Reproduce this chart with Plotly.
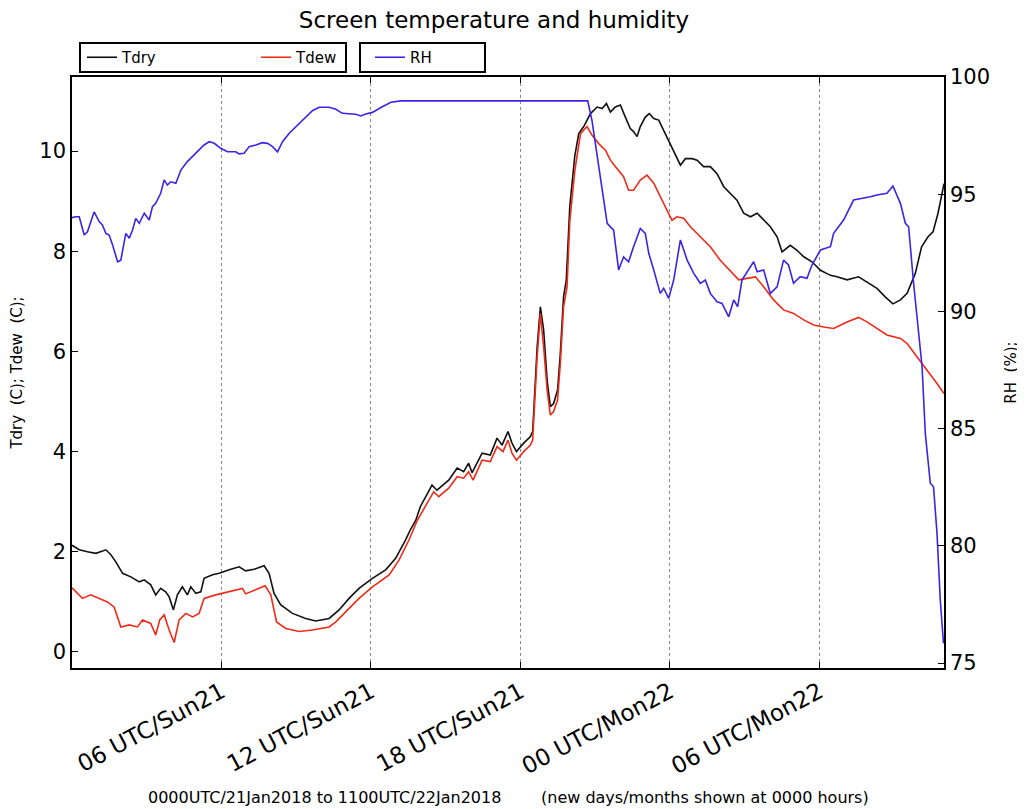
import plotly.graph_objects as go

# ---- data (hours since 00 UTC 21 Jan 2018) ----
tdry_h = [0.0, 0.29, 0.62, 0.96, 1.36, 1.56, 1.76, 2.03, 2.36, 2.7, 2.9, 3.16, 3.36, 3.56, 3.76, 3.9,
          4.07, 4.23, 4.43, 4.63, 4.77, 4.97, 5.17, 5.3, 5.64, 5.91, 6.31, 6.71, 6.97, 7.31, 7.71, 7.91,
          8.11, 8.38, 8.85, 9.38, 9.78, 10.32, 10.72, 11.12, 11.52, 12.06, 12.59, 12.99, 13.39, 13.58,
          13.8, 13.98, 14.45, 14.65, 15.12, 15.46, 15.72, 15.92, 16.06, 16.46, 16.79, 17.06, 17.26, 17.5,
          17.66, 17.84, 18.13, 18.4, 18.49, 18.67, 18.8, 18.93, 19.07, 19.2, 19.33, 19.49, 19.6, 19.73,
          19.84, 19.98, 20.18, 20.34, 20.54, 20.81, 21.08, 21.28, 21.45, 21.61, 21.81, 22.01, 22.21,
          22.41, 22.54, 22.68, 22.81, 23.01, 23.17, 23.35, 23.55, 23.75, 23.95, 24.15, 24.42, 24.62,
          24.89, 25.09, 25.35, 25.62, 25.89, 26.16, 26.42, 26.69, 26.96, 27.23, 27.5, 27.76, 28.03,
          28.3, 28.5, 28.83, 29.1, 29.37, 29.7, 30.04, 30.44, 30.71, 31.11, 31.57, 31.91, 32.31, 32.64,
          32.95, 33.25, 33.52, 33.85, 34.1, 34.36, 34.56, 34.76, 35.0]
tdry_v = [2.13, 2.04, 2.0, 1.97, 2.04, 1.94, 1.8, 1.57, 1.5, 1.4, 1.44, 1.34, 1.14, 1.27, 1.2, 1.1,
          0.84, 1.14, 1.3, 1.14, 1.3, 1.17, 1.2, 1.47, 1.54, 1.57, 1.64, 1.7, 1.62, 1.65, 1.72, 1.57,
          1.17, 0.94, 0.77, 0.67, 0.62, 0.67, 0.84, 1.07, 1.27, 1.47, 1.64, 1.87, 2.24, 2.44,
          2.63, 2.9, 3.33, 3.23, 3.43, 3.67, 3.6, 3.77, 3.58, 3.97, 3.93, 4.27, 4.13, 4.4,
          4.17, 4.0, 4.17, 4.3, 4.4, 6.09, 6.89, 6.43, 5.43, 4.9, 4.96, 5.23, 5.96, 7.09,
          7.43, 8.9, 9.9, 10.35, 10.49, 10.75, 10.88, 10.85, 10.95, 10.78, 10.88, 10.92, 10.68,
          10.45, 10.39, 10.29, 10.49, 10.68, 10.75, 10.65, 10.62, 10.42, 10.22, 10.02, 9.72, 9.85,
          9.85, 9.82, 9.69, 9.69, 9.55, 9.29, 9.16, 9.02, 8.76, 8.69, 8.76, 8.62, 8.49,
          8.29, 7.99, 8.12, 8.02, 7.89, 7.79, 7.62, 7.52, 7.49, 7.43, 7.49, 7.39, 7.26, 7.09,
          6.95, 7.03, 7.16, 7.56, 8.09, 8.29, 8.39, 8.76, 9.35]

tdew_h = [0.0, 0.42, 0.75, 1.09, 1.42, 1.69, 1.96, 2.3, 2.63, 2.83, 3.16, 3.36, 3.52, 3.7, 3.9, 4.1,
          4.3, 4.57, 4.84, 5.1, 5.3, 5.77, 6.31, 6.84, 6.97, 7.38, 7.75, 7.98, 8.21, 8.58, 9.12, 9.65,
          10.32, 10.59, 10.99, 11.52, 12.06, 12.73, 13.13, 13.53, 13.86, 14.05, 14.52, 14.72, 15.12,
          15.46, 15.72, 15.92, 16.1, 16.46, 16.79, 17.06, 17.3, 17.5, 17.66, 17.84, 18.13, 18.4, 18.49,
          18.67, 18.8, 18.93, 19.07, 19.2, 19.33, 19.49, 19.6, 19.73, 19.87, 19.98, 20.18, 20.41,
          20.67, 20.87, 21.14, 21.41, 21.61, 21.88, 22.14, 22.34, 22.54, 22.81, 23.08, 23.35, 23.61,
          23.88, 24.08, 24.28, 24.55, 24.82, 25.22, 25.62, 26.02, 26.42, 26.76, 27.09, 27.43, 27.76,
          28.16, 28.56, 28.96, 29.37, 29.77, 30.17, 30.57, 31.11, 31.57, 31.91, 32.31, 32.71, 33.25,
          33.52, 33.92, 34.32, 34.72, 35.0]
tdew_v = [1.28, 1.07, 1.14, 1.07, 1.0, 0.9, 0.5, 0.54, 0.5, 0.64, 0.57, 0.34, 0.64, 0.74, 0.44, 0.19,
          0.64, 0.77, 0.7, 0.77, 1.07, 1.14, 1.2, 1.27, 1.16, 1.24, 1.32, 1.14, 0.6, 0.47, 0.41, 0.44,
          0.5, 0.6, 0.8, 1.07, 1.3, 1.54, 1.84, 2.24, 2.63, 2.8, 3.2, 3.1, 3.27,
          3.5, 3.47, 3.6, 3.43, 3.83, 3.8, 4.1, 4.0, 4.23, 3.97, 3.83, 4.0, 4.13, 4.23,
          5.89, 6.76, 6.09, 5.23, 4.73, 4.8, 5.03, 5.76, 6.89, 7.29, 8.6, 9.6, 10.35,
          10.49, 10.32, 10.15, 10.02, 9.82, 9.65, 9.49, 9.22, 9.22, 9.42, 9.52, 9.36, 9.09,
          8.82, 8.62, 8.69, 8.66, 8.49, 8.29, 8.09, 7.82, 7.62, 7.43, 7.46, 7.49, 7.29,
          7.03, 6.83, 6.76, 6.63, 6.53, 6.49, 6.46, 6.59, 6.68, 6.59, 6.46, 6.33, 6.26,
          6.16, 5.89, 5.63, 5.36, 5.16]

rh_h = [0.0, 0.15, 0.29, 0.49, 0.62, 0.89, 1.09, 1.22, 1.36, 1.49, 1.63, 1.83, 1.96, 2.16, 2.3, 2.43,
        2.56, 2.7, 2.9, 3.1, 3.23, 3.36, 3.56, 3.7, 3.83, 3.96, 4.17, 4.37, 4.63, 4.84, 5.04, 5.3,
        5.51, 5.71, 5.97, 6.24, 6.57, 6.71, 6.91, 7.11, 7.38, 7.64, 7.85, 8.05, 8.25, 8.45, 8.72,
        9.12, 9.38, 9.65, 9.92, 10.32, 10.59, 10.85, 11.39, 11.59, 11.79, 12.06, 12.4, 12.8, 13.2,
        14.5, 16.0, 18.0, 19.5, 20.7, 20.87, 21.21, 21.48, 21.74, 21.94, 22.14, 22.34, 22.54, 22.81,
        23.01, 23.15, 23.35, 23.61, 23.75, 23.95, 24.15, 24.42, 24.69, 24.95, 25.22, 25.42, 25.62,
        25.89, 26.09, 26.36, 26.56, 26.72, 26.89, 27.16, 27.36, 27.5, 27.76, 28.03, 28.3, 28.56,
        28.76, 28.96, 29.23, 29.5, 29.7, 30.04, 30.44, 30.57, 30.97, 31.37, 31.77, 32.04, 32.31,
        32.71, 32.95, 33.25, 33.45, 33.58, 33.78, 33.98, 34.12, 34.25, 34.45, 34.58, 34.72, 34.85,
        34.98]
rh_v = [94.0, 94.04, 94.04, 93.26, 93.4, 94.25, 93.83, 93.69, 93.33, 93.26, 92.83, 92.12, 92.19, 93.33,
        93.12, 93.47, 93.97, 93.76, 94.19, 93.9, 94.47, 94.61, 95.04, 95.61, 95.39, 95.53, 95.47, 96.03,
        96.39, 96.6, 96.81, 97.1, 97.24, 97.17, 96.96, 96.81, 96.81, 96.72, 96.75, 97.03, 97.1, 97.2,
        97.17, 97.03, 96.81, 97.24, 97.6, 98.02, 98.31, 98.56, 98.71, 98.71, 98.62, 98.45, 98.41,
        98.34, 98.42, 98.49, 98.7, 98.92, 98.98, 98.98, 98.98, 98.98, 98.98, 98.98, 98.15, 95.6,
        93.76, 93.47, 91.77, 92.33, 92.12, 92.76, 93.54, 93.33, 92.48, 91.77, 90.77, 90.99, 90.56,
        91.34, 93.05, 92.19, 91.63, 91.2, 91.34, 90.77, 90.41, 90.34, 89.77, 90.49, 90.2, 91.34,
        91.77, 92.12, 91.69, 91.77, 90.77, 91.05, 92.19, 91.98, 91.2, 91.48, 91.41, 91.98, 92.62,
        92.76, 93.33, 93.9, 94.75, 94.82, 94.89, 94.97, 95.04, 95.35, 94.61, 93.76, 93.61, 91.2,
        89.07, 87.64, 84.8, 82.67, 82.52, 80.53, 77.69, 75.84]

x_tickvals = [6, 12, 18, 24, 30]
x_ticktext = ["06 UTC/Sun21", "12 UTC/Sun21", "18 UTC/Sun21", "00 UTC/Mon22", "06 UTC/Mon22"]
t_ticks = [0, 2, 4, 6, 8, 10]
rh_ticks = [75, 80, 85, 90, 95, 100]

FONT = "DejaVu Sans"
# the page body has an 8px margin, so the figure is laid out 8px smaller/shifted
OFF = 8
W, H = 1025 - OFF, 809 - OFF
ML, MT = 72 - OFF, 77 - OFF
MR = W - (944 - OFF)
MB = H - (668 - OFF)
PW, PH = W - ML - MR, H - MT - MB


def px(x):  # screen x (reference pixels) -> paper x
    return (x - OFF - ML) / PW


def py(y):  # screen y (reference pixels) -> paper y
    return 1 - (y - OFF - MT) / PH


fig = go.Figure()
fig.add_trace(go.Scatter(x=tdry_h, y=tdry_v, mode="lines", name="Tdry",
                         line=dict(color="#111111", width=1.6), legend="legend"))
fig.add_trace(go.Scatter(x=tdew_h, y=tdew_v, mode="lines", name="Tdew",
                         line=dict(color="#ee2a18", width=1.6), legend="legend"))
fig.add_trace(go.Scatter(x=rh_h, y=rh_v, mode="lines", name="RH", yaxis="y2",
                         line=dict(color="#3c24e6", width=1.6), legend="legend2"))

axis_common = dict(showline=True, linecolor="black", linewidth=1.5, ticks="inside",
                   ticklen=6, tickcolor="black", zeroline=False)

legend_box = dict(type="rect", xref="paper", yref="paper", layer="above",
                  line=dict(color="black", width=2), fillcolor="rgba(0,0,0,0)")

fig.update_layout(
    width=W, height=H,
    margin=dict(l=ML, r=MR, t=MT, b=MB, autoexpand=False),
    paper_bgcolor="white", plot_bgcolor="white",
    font=dict(family=FONT, color="black"),
    title=dict(text="Screen temperature and humidity", x=(494 - OFF) / W, xref="container",
               xanchor="center", y=1 - (20 - OFF) / H, yref="container", yanchor="middle",
               font=dict(family=FONT, size=23, color="black")),
    xaxis=dict(range=[0, 35], tickvals=x_tickvals, ticktext=x_ticktext, tickangle=-28,
               showgrid=True, gridcolor="#888888", griddash="dot", gridwidth=1,
               mirror="ticks", tickfont=dict(family=FONT, size=23, color="black"), **axis_common),
    yaxis=dict(range=[-0.32, 11.48], tickvals=t_ticks, showgrid=False,
               tickfont=dict(family=FONT, size=21, color="black"),
               title=dict(text="Tdry  (C); Tdew  (C);", font=dict(family=FONT, size=15, color="black"),
                          standoff=29),
               **axis_common),
    yaxis2=dict(range=[74.79, 100.0], tickvals=rh_ticks, overlaying="y", side="right", showgrid=False,
                tickfont=dict(family=FONT, size=21, color="black"),
                title=dict(text="RH  (%);", font=dict(family=FONT, size=15, color="black"), standoff=16),
                **axis_common),
    legend=dict(orientation="h", x=px(82), y=py(57.5), xanchor="left", yanchor="middle",
                borderwidth=0, bgcolor="rgba(0,0,0,0)",
                font=dict(family=FONT, size=15, color="black"),
                entrywidth=129, entrywidthmode="pixels"),
    legend2=dict(orientation="h", x=px(370), y=py(57.5), xanchor="left", yanchor="middle",
                 borderwidth=0, bgcolor="rgba(0,0,0,0)",
                 font=dict(family=FONT, size=15, color="black"),
                 entrywidth=60, entrywidthmode="pixels"),
    shapes=[
        dict(legend_box, x0=px(80), x1=px(346), y0=py(72), y1=py(43)),
        dict(legend_box, x0=px(360), x1=px(485), y0=py(72), y1=py(43)),
    ],
    annotations=[
        dict(text="0000UTC/21Jan2018 to 1100UTC/22Jan2018", x=px(324), y=py(797),
             xref="paper", yref="paper", xanchor="center", yanchor="middle",
             showarrow=False, font=dict(family=FONT, size=16, color="black")),
        dict(text="(new days/months shown at 0000 hours)", x=px(705), y=py(797),
             xref="paper", yref="paper", xanchor="center", yanchor="middle",
             showarrow=False, font=dict(family=FONT, size=16, color="black")),
    ],
)

fig.write_html("out.html")
